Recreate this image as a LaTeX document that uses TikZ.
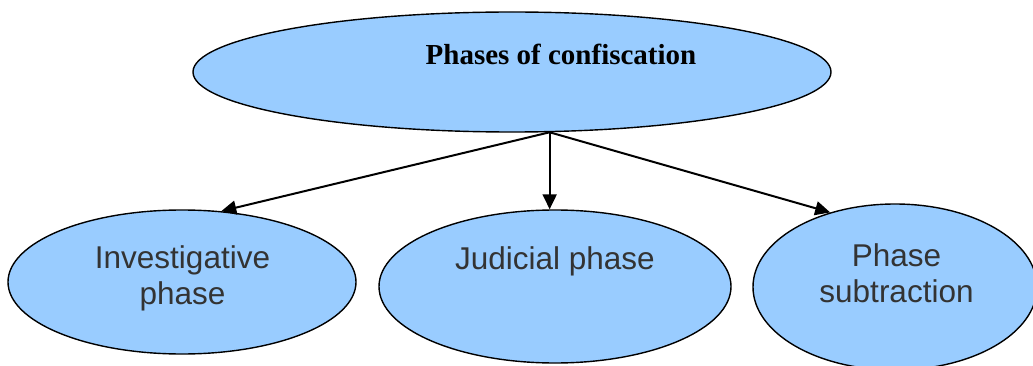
\documentclass[tikz,border=0pt]{standalone}
\usepackage{fontspec}
\setmainfont{Liberation Sans}
\newfontfamily\titlefont{Liberation Serif}
\usetikzlibrary{shapes.geometric,arrows.meta}
\definecolor{phasefill}{HTML}{99CCFF}
\definecolor{phasetext}{HTML}{333333}
\begin{document}
\begin{tikzpicture}[x=1pt,y=-1pt,
  bubble/.style={ellipse,draw=black,line width=1.4pt,fill=phasefill,inner sep=0pt},
  lbl/.style={text=phasetext,align=center,inner sep=0pt,
    font=\fontsize{31.5}{36}\selectfont},
  arr/.style={line width=2pt,-{Triangle[length=15pt,width=14pt]}}]
\useasboundingbox (0,0) rectangle (1033,366);

% ellipses
\node[bubble,minimum width=638pt,minimum height=120pt] (top) at (512,72) {};
\node[bubble,minimum width=348pt,minimum height=144pt] (inv) at (182,282) {};
\node[bubble,minimum width=352pt,minimum height=153pt] (jud) at (555,286.5) {};
\node[bubble,minimum width=284pt,minimum height=166pt] (sub) at (895,287) {};

% labels
\node[anchor=base,inner sep=0pt,font=\titlefont\bfseries\fontsize{29}{34}\selectfont]
  (toplbl) at (561,65) {Phases of confiscation};
\node[lbl] (invlbl) at (182.5,278.5) {Investigative\\phase};
\node[lbl,anchor=base] (judlbl) at (555,269) {Judicial phase};
\node[lbl] (sublbl) at (896.5,273) {Phase\\subtraction};

% connectors
\coordinate (src) at (top.-58.6);
\draw[arr] (src) -- (inv.61);
\draw[arr] (src) -- (src |- jud.north);
\draw[arr] (src) -- (sub.131);
\end{tikzpicture}
\end{document}
